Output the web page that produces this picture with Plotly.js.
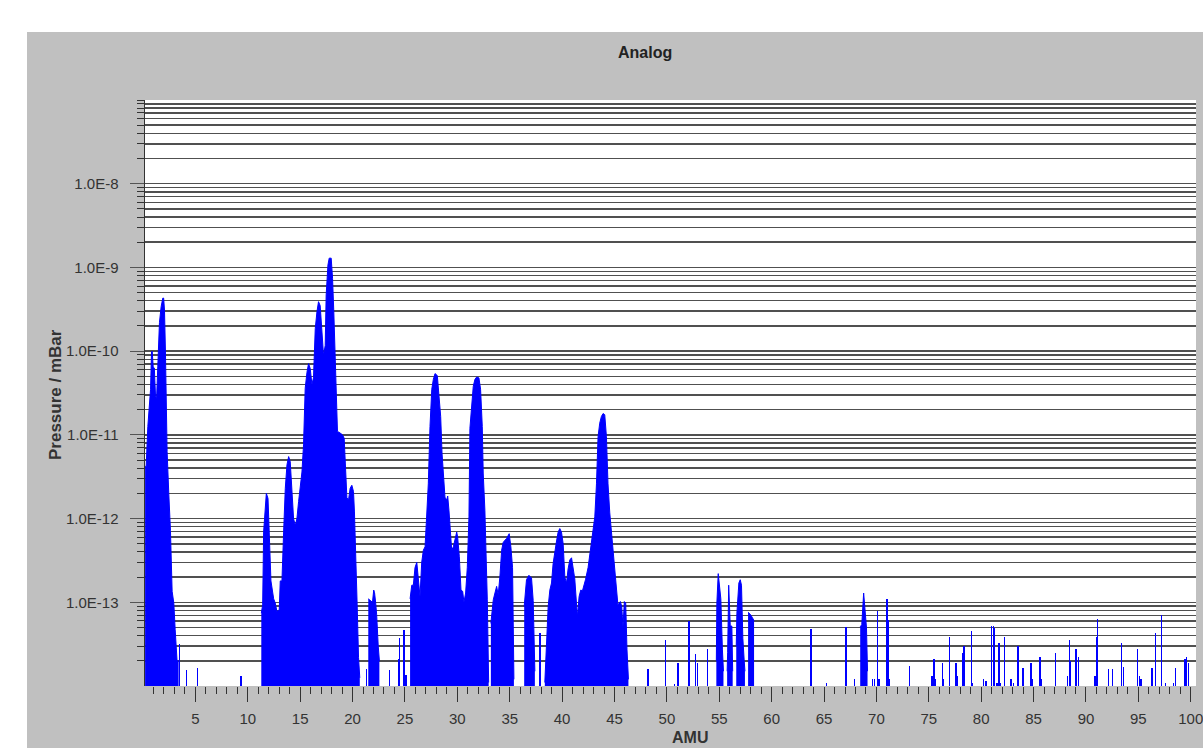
<!DOCTYPE html>
<html><head><meta charset="utf-8">
<script src="https://cdn.plot.ly/plotly-3.0.1.min.js"></script>
<style>
html,body{margin:0;padding:0;background:#ffffff;width:1203px;height:748px;overflow:hidden}
#chart{position:absolute;left:27px;top:32px;width:1176px;height:716px}
</style>
</head><body><div id="chart"></div>
<script>
// Analog scan envelope (AMU, pressure in mBar); null separates peak groups
const envAmu = [
 0.2,0.30,0.46,0.62,0.72,0.81,0.88,0.97,1.08,1.19,1.29,1.41,1.57,1.73,1.89,1.97,2.05,2.14,2.24,2.30,2.46,2.62,2.78,2.94,3.07,3.25,3.40,null,
 11.29,11.42,11.51,11.67,11.77,11.93,12.05,12.21,12.47,12.62,12.78,13.0,13.1,13.26,13.42,13.58,13.74,13.9,14.05,14.21,14.37,14.53,14.69,14.85,15.0,15.17,15.32,15.48,15.65,15.8,15.96,16.12,16.27,16.44,16.6,16.75,16.91,17.07,17.23,17.39,17.48,17.65,17.77,17.96,18.09,18.21,18.34,18.44,18.56,18.82,19.04,19.2,19.3,19.46,19.61,19.77,19.93,20.09,20.18,20.25,20.34,20.44,20.57,20.69,null,
 21.5,21.7,21.9,22.02,22.1,22.2,22.3,22.45,22.56,null,
 25.49,25.65,25.8,25.96,26.13,26.28,26.44,26.6,26.76,26.92,27.08,27.23,27.39,27.56,27.71,27.87,28.09,28.25,28.41,28.54,28.66,28.82,28.99,29.08,29.2,29.3,29.46,29.62,29.78,29.94,30.03,30.19,30.35,30.51,30.63,30.79,30.95,31.11,31.2,31.37,31.52,31.68,31.84,32.06,32.22,32.38,32.47,32.63,32.73,32.86,32.99,null,
 33.2,33.43,33.59,33.75,33.9,34.06,34.23,34.38,34.7,34.95,35.11,35.27,35.4,null,
 36.38,36.6,36.83,37.08,37.24,37.4,null,
 38.35,38.51,38.67,38.83,38.99,39.14,39.3,39.47,39.62,39.78,39.94,40.1,40.26,40.42,40.57,40.73,40.9,41.05,41.21,41.37,41.47,41.62,41.78,41.94,42.07,42.23,42.48,42.64,42.8,42.95,43.12,43.28,43.43,43.59,43.75,43.91,44.07,44.23,44.38,44.55,44.71,44.86,45.02,45.18,45.34,45.43,45.56,45.69,45.81,45.94,46.07,46.19,46.33,null,
 54.72,54.77,54.9,55.03,55.15,55.3,55.4,null,
 55.75,55.8,55.9,56.05,56.2,56.28,null,
 56.62,56.68,56.87,57.0,57.12,57.25,57.38,57.45,null,
 57.75,57.95,58.15,58.25,58.32,null,
 68.45,68.6,68.78,68.9,69.05,69.15
];
const envP = [
 4.2e-12,4.2e-12,1.26e-11,3.0e-11,3.5e-11,9.8e-11,1.0e-10,6.5e-11,6.3e-11,3.0e-11,2.6e-11,6.5e-11,2.2e-10,3.4e-10,4.3e-10,4.3e-10,3.1e-10,1.0e-10,1.8e-11,6.3e-12,2.0e-12,7.2e-13,1.35e-13,9.8e-14,4.7e-14,2.0e-14,2.0e-14,null,
 7.4e-14,9.3e-14,6.9e-13,1.35e-12,2.0e-12,1.74e-12,5.9e-13,1.8e-13,1.1e-13,9.8e-14,7.8e-14,8.1e-14,1.8e-13,1.8e-13,6.9e-13,2.3e-12,4.4e-12,5.5e-12,4.8e-12,1.78e-12,1.0e-12,8.3e-13,1.0e-12,1.6e-12,2.5e-12,3.6e-12,7.6e-12,3.6e-11,5.6e-11,7.1e-11,6.2e-11,4.0e-11,4.8e-11,1.86e-10,2.95e-10,3.9e-10,3.5e-10,1.86e-10,8.9e-11,1.17e-10,4.7e-10,1.07e-9,1.29e-9,1.29e-9,7.4e-10,2.95e-10,7.4e-11,2.3e-11,1.1e-11,1.05e-11,1.0e-11,9.1e-12,4.8e-12,1.78e-12,1.66e-12,2.3e-12,2.5e-12,2.1e-12,1.2e-12,4.8e-13,2.0e-13,9.3e-14,2.2e-14,1.25e-14,null,
 1.1e-13,1.05e-13,1.0e-13,1.4e-13,1.3e-13,1.0e-13,7.1e-14,3.0e-14,2.0e-14,null,
 1.1e-13,1.6e-13,1.6e-13,2.6e-13,3.0e-13,1.7e-13,1.17e-13,3.0e-13,4.2e-13,4.6e-13,1.05e-12,2.6e-12,1.26e-11,3.5e-11,4.6e-11,5.4e-11,5.1e-11,3.2e-11,1.66e-11,6.0e-12,3.2e-12,1.8e-12,1.66e-12,1.86e-12,1.26e-12,7.2e-13,4.2e-13,4.6e-13,5.5e-13,6.9e-13,6.0e-13,3.5e-13,1.4e-13,1.35e-13,1.0e-13,1.29e-13,2.6e-13,1.05e-12,1.2e-11,2.4e-11,3.8e-11,4.6e-11,4.9e-11,4.8e-11,3.5e-11,1.26e-11,3.5e-12,1.26e-12,4.2e-13,1.07e-13,1.1e-14,null,
 5.6e-14,1.07e-13,1.29e-13,1.55e-13,1.23e-13,2.0e-13,4.2e-13,5.2e-13,5.8e-13,6.6e-13,4.6e-13,2.6e-13,1.2e-14,null,
 8.9e-14,1.86e-13,2.1e-13,1.95e-13,1.05e-13,1.5e-14,null,
 1.1e-14,2.75e-14,8.9e-14,1.4e-13,1.7e-13,2.9e-13,4.2e-13,5.4e-13,6.9e-13,7.6e-13,6.9e-13,5.0e-13,2.0e-13,1.7e-13,2.5e-13,3.2e-13,3.4e-13,2.7e-13,1.9e-13,9.8e-14,6.8e-14,1.17e-13,1.4e-13,1.37e-13,1.55e-13,1.86e-13,2.6e-13,3.7e-13,5.4e-13,6.9e-13,1.05e-12,2.6e-12,9.5e-12,1.38e-11,1.66e-11,1.8e-11,1.74e-11,9.5e-12,2.6e-12,1.17e-12,7.2e-13,4.2e-13,2.7e-13,1.7e-13,8.9e-14,9.8e-14,1.02e-13,8.9e-14,5.1e-14,1.02e-13,9.8e-14,2.75e-14,1.2e-14,null,
 2.0e-14,9.8e-14,2.2e-13,1.35e-13,1.1e-13,2.7e-14,1.5e-14,null,
 1.5e-14,2.5e-14,1.6e-13,5.2e-14,5.2e-14,1.5e-14,null,
 3.0e-14,7.4e-14,1.7e-13,1.86e-13,1.6e-13,3.7e-14,2.0e-14,1.5e-14,null,
 7.6e-14,7.2e-14,6.6e-14,6.3e-14,6.0e-14,null,
 5.1e-14,5.4e-14,1.29e-13,8.1e-14,5.0e-14,1.5e-14
];
// Isolated narrow spikes (AMU, pressure in mBar)
const spikeAmu = [3.48,4.14,5.22,9.36,21.3,23.55,24.37,24.47,24.92,25.1,37.9,48.2,49.85,50.7,51.05,52.1,52.75,52.9,53.9,63.76,65.2,67.1,67.9,69.6,69.8,70.1,70.25,71.0,71.12,71.25,73.13,75.3,75.5,75.65,76.3,76.4,77.0,77.6,77.75,78.2,78.35,79.05,79.2,80.2,80.45,81.0,81.15,81.3,81.5,81.7,81.85,82.2,82.85,83.1,83.5,84.0,84.75,84.9,85.6,85.75,87.1,88.25,88.4,88.55,89.05,89.3,90.85,91.0,91.1,92.15,92.55,93.4,93.55,94.95,95.1,95.25,96.3,96.65,97.2,97.6,98.35,98.55,99.45,99.6,99.75];
const spikeP = [3.2e-14,1.55e-14,1.66e-14,1.3e-14,1.6e-14,1.55e-14,2.1e-14,3.7e-14,4.7e-14,1.35e-14,4.3e-14,1.6e-14,3.5e-14,1.05e-14,1.9e-14,6.0e-14,2.4e-14,1.9e-14,2.8e-14,4.8e-14,1.1e-14,5.0e-14,1.2e-14,1.2e-14,1.2e-14,7.8e-14,1.2e-14,1.1e-13,6.2e-14,1.2e-14,1.74e-14,1.3e-14,2.1e-14,1.2e-14,1.9e-14,1.2e-14,3.8e-14,1.9e-14,1.3e-14,2.45e-14,3.0e-14,4.5e-14,1.1e-14,1.2e-14,1.15e-14,5.2e-14,5.2e-14,4.9e-14,1.1e-14,3.3e-14,1.1e-14,3.8e-14,1.2e-14,1.1e-14,3.0e-14,1.66e-14,1.9e-14,1.2e-14,2.2e-14,1.2e-14,2.5e-14,1.3e-14,3.5e-14,2.0e-14,2.8e-14,2.2e-14,1.3e-14,3.8e-14,6.3e-14,1.6e-14,1.6e-14,3.3e-14,1.7e-14,2.8e-14,1.3e-14,1.2e-14,1.66e-14,4.3e-14,7.1e-14,1.1e-14,1.1e-14,1.66e-14,2.1e-14,2.2e-14,1.9e-14];

// Axis ticks
const xTickVals = [5,10,15,20,25,30,35,40,45,50,55,60,65,70,75,80,85,90,95,100];
const yTickVals = [1e-13,1e-12,1e-11,1e-10,1e-9,1e-8];
const yTickText = ['1.0E-13','1.0E-12','1.0E-11','1.0E-10','1.0E-9','1.0E-8'];
const yMinorVals = [];
for (let e = -14; e <= -8; e++) {
  for (let m = 2; m <= 9; m++) yMinorVals.push(parseFloat(m + 'e' + e));
}
yMinorVals.push(1e-7);

const FONT = 'Liberation Sans, Arial, Helvetica, sans-serif';
const blue = '#0000ff';

// split the envelope at nulls so each peak group is filled down to the axis on its own
const traces = [];
let segX = [], segY = [];
function flush() {
  if (segX.length) {
    traces.push({type:'scatter', mode:'lines', x:segX, y:segY, fill:'tozeroy', fillcolor:blue,
      line:{color:blue, width:1}, hoverinfo:'skip'});
  }
  segX = []; segY = [];
}
for (let i = 0; i < envAmu.length; i++) {
  if (envAmu[i] === null) { flush(); continue; }
  segX.push(envAmu[i]); segY.push(envP[i]);
}
flush();
traces.push({type:'bar', x:spikeAmu, y:spikeP, width:0.12, marker:{color:blue, line:{width:0}}, hoverinfo:'skip'});

const layout = {
  width:1176, height:716,
  paper_bgcolor:'#c0c0c0', plot_bgcolor:'#ffffff',
  margin:{l:118, r:7, t:68, b:62, pad:0},
  showlegend:false,
  bargap:0,
  font:{family:FONT, color:'#333'},
  xaxis:{
    range:[0.19,100.5], tickmode:'array', tickvals:xTickVals,
    ticks:'outside', ticklen:15, tickwidth:1, tickcolor:'#333',
    showgrid:false, zeroline:false, showline:false, ticklabeloverflow:'allow',
    tickfont:{family:FONT, size:15, color:'#333'}, ticklabelstandoff:4,
    minor:{dtick:1, tick0:0, ticks:'outside', ticklen:7, tickwidth:1, tickcolor:'#333', showgrid:false}
  },
  yaxis:{
    type:'log', range:[-14,-7], tickmode:'array', tickvals:yTickVals, ticktext:yTickText,
    ticks:'outside', ticklen:14, tickwidth:1, tickcolor:'#555',
    showgrid:true, gridcolor:'#505050', gridwidth:1.5,
    showline:true, linecolor:'#333', linewidth:1.5, zeroline:false,
    tickfont:{family:FONT, size:15, color:'#333'}, ticklabelstandoff:8,
    minor:{tickmode:'array', tickvals:yMinorVals, ticks:'outside', ticklen:7, tickwidth:1, tickcolor:'#333',
      showgrid:true, gridcolor:'#505050', gridwidth:1.5}
  },
  annotations:[
    {text:'<b>Analog</b>', xref:'paper', yref:'paper', x:(618-118)/1051, y:1+(68-20)/586,
     xanchor:'center', yanchor:'middle', showarrow:false, font:{family:FONT, size:16, color:'#222'}},
    {text:'<b>Pressure / mBar</b>', xref:'paper', yref:'paper', x:(28-118)/1051, y:0.5-(2/586), textangle:-90,
     xanchor:'center', yanchor:'middle', showarrow:false, font:{family:FONT, size:17, color:'#333'}},
    {text:'<b>AMU</b>', xref:'paper', yref:'paper', x:(663-118)/1051, y:-(705-654)/586,
     xanchor:'center', yanchor:'middle', showarrow:false, font:{family:FONT, size:16, color:'#333'}}
  ]
};

Plotly.newPlot('chart', traces, layout, {displayModeBar:false, staticPlot:true});
</script>
</body></html>
